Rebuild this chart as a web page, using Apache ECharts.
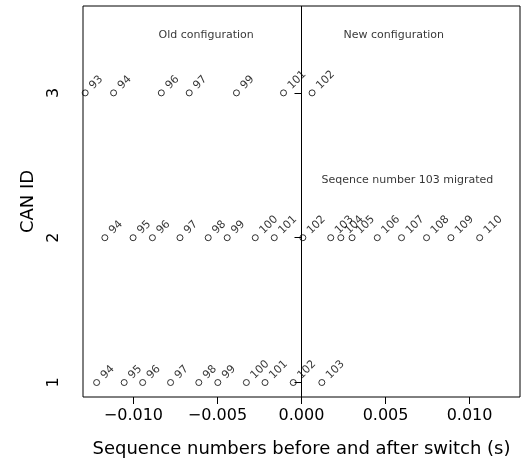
<!DOCTYPE html>
<html>
<head>
<meta charset="utf-8">
<script src="https://cdn.jsdelivr.net/npm/echarts@6/dist/echarts.min.js"></script>
<style>html,body{margin:0;padding:0;background:#fff;}#c{width:526px;height:464px;}</style>
</head>
<body>
<div id="c"></div>
<script>
// CAN ID 3 (old configuration only + first new)
const seq3 = [93, 94, 96, 97, 99, 101, 102];
const time3 = [-0.01287, -0.01118, -0.00834, -0.00668, -0.00387, -0.00107, 0.00063];
// CAN ID 2
const seq2 = [93, 94, 95, 96, 97, 98, 99, 100, 101, 102, 103, 104, 105, 106, 107, 108, 109, 110];
const time2 = [-0.01348, -0.01170, -0.01002, -0.00887, -0.00723, -0.00555, -0.00442, -0.00275, -0.00162,
               0.00008, 0.00174, 0.00234, 0.00301, 0.00451, 0.00595, 0.00744, 0.00889, 0.01060];
// CAN ID 1
const seq1 = [94, 95, 96, 97, 98, 99, 100, 101, 102, 103];
const time1 = [-0.01219, -0.01055, -0.00945, -0.00779, -0.00611, -0.00498, -0.00328, -0.00217, -0.00049, 0.00121];

const xTicks = [-0.010, -0.005, 0.000, 0.005, 0.010];
const yTicks = [1, 2, 3];

const annotations = [
  { text: 'Old configuration', x: -0.00567, y: 3.40 },
  { text: 'New configuration', x: 0.00549, y: 3.40 },
  { text: 'Seqence number 103 migrated', x: 0.0063, y: 2.40 }
];

const FONT = 'DejaVu Sans';

function rowData(times, seqs, id) {
  return times.map((t, i) => [t, id, seqs[i]]);
}

const labelCfg = {
  show: true,
  formatter: p => String(p.value[2]),
  rotate: 45,
  position: [13.5, 2],
  align: 'left',
  verticalAlign: 'bottom',
  fontFamily: FONT,
  fontSize: 11,
  color: '#000'
};

function pointSeries(times, seqs, id) {
  return {
    type: 'scatter',
    data: rowData(times, seqs, id),
    symbol: 'circle',
    symbolSize: 6,
    clip: true,
    itemStyle: { color: 'rgba(0,0,0,0)', borderColor: '#000', borderWidth: 1 },
    label: labelCfg,
    emphasis: { disabled: true },
    silent: true
  };
}

const chart = echarts.init(document.getElementById('c'), null, { renderer: 'canvas' });
chart.setOption({
  animation: false,
  backgroundColor: '#fff',
  textStyle: { fontFamily: FONT },
  grid: { left: 83, right: 6, top: 6, bottom: 67, show: true, borderColor: '#000', borderWidth: 1, backgroundColor: 'transparent' },
  xAxis: {
    type: 'value', min: -0.013, max: 0.013,
    axisLine: { show: false },
    splitLine: { show: false },
    axisTick: { show: true, length: 7, customValues: xTicks, lineStyle: { color: '#000' } },
    axisLabel: {
      customValues: xTicks, margin: 11, fontSize: 16, color: '#000', fontFamily: FONT,
      formatter: v => (v < 0 ? '\u2212' : '') + Math.abs(v).toFixed(3)
    },
    name: 'Sequence numbers before and after switch (s)',
    nameLocation: 'middle', nameGap: 43,
    nameTextStyle: { fontSize: 18, color: '#000', fontFamily: FONT }
  },
  yAxis: {
    type: 'value', min: 0.9, max: 3.6,
    axisLine: { show: false },
    splitLine: { show: false },
    axisTick: { show: true, length: 7, customValues: yTicks, lineStyle: { color: '#000' } },
    axisLabel: {
      customValues: yTicks, margin: 21, rotate: 90, fontSize: 16, color: '#000', fontFamily: FONT,
      formatter: v => String(v)
    },
    name: 'CAN ID',
    nameLocation: 'middle', nameGap: 46,
    nameTextStyle: { fontSize: 18, color: '#000', fontFamily: FONT }
  },
  series: [
    pointSeries(time3, seq3, 3),
    pointSeries(time2, seq2, 2),
    pointSeries(time1, seq1, 1),
    {
      type: 'scatter',
      data: annotations.map(a => [a.x, a.y, a.text]),
      symbolSize: 0,
      silent: true,
      label: {
        show: true, position: 'inside', formatter: p => p.value[2],
        fontFamily: FONT, fontSize: 11, color: '#000'
      },
      markLine: {
        silent: true,
        symbol: 'none',
        label: { show: false },
        lineStyle: { color: '#000', width: 1, type: 'solid' },
        data: [{ xAxis: 0 }]
      }
    }
  ]
});
</script>
</body>
</html>
